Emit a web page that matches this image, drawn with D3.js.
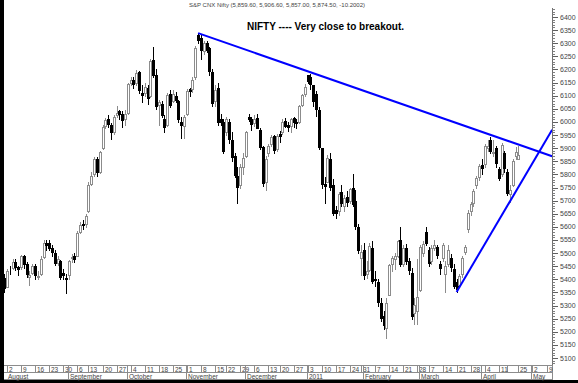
<!DOCTYPE html>
<html>
<head>
<meta charset="utf-8">
<script src="https://cdn.jsdelivr.net/npm/d3@7"></script>
<style>
    body { margin: 0; background: #fff; }
    svg { display: block; }
    text { font-family: "Liberation Sans", Arial, sans-serif; }
</style>
</head>
<body>
<svg id="chart" width="578" height="383"></svg>
<script>
// NSE holidays falling on weekdays in the charted period
const holidays = ['2010-09-10', '2010-11-17', '2010-12-17', '2011-01-26', '2011-03-02', '2011-04-12', '2011-04-14', '2011-04-22'];

// Daily OHLC, 30 Jul 2010 .. 25 Apr 2011 (one entry per trading day)
const opens = [5405,
    5370, 5440, 5442, 5467, 5446, 5448, 5490, 5460, 5410, 5425, 5450, 5410, 5420, 5485, 5540, 5540, 5520, 5500, 5462, 5470, 5425, 5405,
    5415, 5480, 5490, 5490, 5580, 5612, 5610, 5660, 5765, 5800, 5860, 5810, 5900, 5985, 6010, 5990, 5960, 6025, 6040, 6030, 6010,
    6035, 6150, 6160, 6150, 6190, 6110, 6110, 6130, 6100, 6235, 6180, 6065, 6070, 6010, 5990, 6105, 6080, 6100, 6080, 6000, 5985,
    6030, 6125, 6125, 6170, 6330, 6320, 6270, 6300, 6280, 6190, 6080, 6130, 6010, 6000, 5960, 6000, 5930, 5870, 5795, 5760, 5830,
    5870, 6020, 6010, 5995, 6015, 5970, 5905, 5770, 5880, 5915, 5945, 5895, 5955, 5960, 6005, 5990, 5985, 6015, 6000, 6000, 6065, 6105,
    6177, 6172, 6141, 6107, 6045, 5900, 5765, 5770, 5860, 5760, 5665, 5660, 5731, 5680, 5715, 5700, 5750, 5700, 5600, 5480,
    5510, 5420, 5435, 5520, 5400, 5390, 5310, 5260, 5215, 5340, 5460, 5478, 5490, 5550, 5460, 5520, 5470, 5425, 5270, 5280,
    5360, 5500, 5580, 5510, 5470, 5520, 5525, 5460, 5480, 5420, 5460, 5480, 5440, 5390, 5380, 5420, 5505, 5590, 5660, 5690, 5760, 5790,
    5835, 5840, 5900, 5930, 5880, 5900, 5820, 5800, 5880, 5810, 5725, 5760, 5870, 5859.6];
const highs = [5420,
    5440, 5452, 5477, 5478, 5450, 5494, 5492, 5465, 5430, 5460, 5460, 5430, 5490, 5550, 5549, 5549, 5530, 5510, 5490, 5475, 5440, 5420,
    5475, 5495, 5500, 5585, 5620, 5625, 5650, 5770, 5810, 5865, 5865, 5890, 5990, 6015, 6025, 5995, 6025, 6060, 6045, 6040, 6045,
    6150, 6170, 6170, 6198, 6195, 6140, 6150, 6140, 6240, 6284, 6200, 6085, 6080, 6025, 6110, 6120, 6120, 6115, 6085, 6020, 6025,
    6125, 6130, 6170, 6290, 6338.5, 6335, 6310, 6310, 6285, 6200, 6140, 6150, 6030, 6010, 6020, 6010, 5960, 5880, 5830, 5840, 5880,
    5965, 6030, 6020, 6025, 6030, 5975, 5910, 5870, 5915, 5950, 5950, 5955, 5965, 6010, 6015, 6000, 6015, 6020, 6010, 6065, 6105, 6145,
    6178, 6181, 6141, 6116, 6057, 5900, 5790, 5873, 5880, 5784, 5680, 5734, 5760, 5720, 5735, 5750, 5800, 5740, 5610, 5530,
    5540, 5470, 5540, 5545, 5430, 5400, 5330, 5280, 5330, 5460, 5490, 5500, 5550, 5600, 5530, 5535, 5480, 5445, 5330, 5477,
    5530, 5545, 5600, 5525, 5530, 5550, 5530, 5470, 5540, 5470, 5530, 5495, 5460, 5400, 5420, 5490, 5530, 5665, 5695, 5745, 5795, 5840,
    5860, 5915, 5930, 5944, 5930, 5910, 5830, 5920, 5890, 5820, 5760, 5860, 5905, 5906.6];
const lows = [5350,
    5369, 5422, 5440, 5435, 5415, 5440, 5445, 5410, 5380, 5420, 5400, 5400, 5415, 5480, 5513, 5510, 5490, 5455, 5455, 5400, 5402, 5348,
    5400, 5465, 5465, 5488, 5578, 5590, 5600, 5658, 5760, 5795, 5795, 5805, 5898, 5975, 5980, 5935, 5955, 6020, 6010, 5980, 5990,
    6030, 6140, 6130, 6140, 6110, 6075, 6100, 6070, 6095, 6170, 6050, 5990, 6020, 5960, 5985, 6055, 6075, 6075, 6000, 5940, 5937,
    6025, 6100, 6115, 6165, 6300, 6240, 6260, 6265, 6180, 6060, 6060, 5990, 5990, 5880, 5950, 5920, 5850, 5790, 5690, 5750, 5800,
    5865, 6005, 5970, 5985, 5975, 5895, 5755, 5740, 5870, 5910, 5880, 5890, 5925, 5955, 5980, 5965, 5960, 5980, 5975, 5995, 6060, 6100,
    6147, 6124, 6062, 6022, 5896, 5748, 5690, 5770, 5740, 5644, 5632, 5646, 5680, 5660, 5680, 5690, 5680, 5590, 5500, 5416,
    5400, 5405, 5430, 5385, 5375, 5300, 5240, 5210, 5177.7, 5340, 5430, 5440, 5485, 5450, 5450, 5460, 5420, 5250, 5230, 5230,
    5355, 5490, 5530, 5450, 5460, 5510, 5480, 5420, 5470, 5350, 5450, 5430, 5365, 5350, 5370, 5410, 5495, 5580, 5645, 5680, 5750, 5780,
    5800, 5830, 5890, 5880, 5870, 5830, 5780, 5795, 5810, 5720, 5693, 5755, 5860, 5857];
const closes = [5368,
    5432, 5439, 5467, 5447, 5439, 5487, 5460, 5420, 5416, 5452, 5418, 5414, 5479, 5540, 5530, 5519, 5505, 5462, 5477, 5408, 5416, 5402,
    5471, 5486, 5479, 5576, 5608, 5607, 5640, 5760, 5795, 5860, 5808, 5884, 5980, 6009, 5991, 5960, 6018, 6035, 6029, 6009, 6030,
    6143, 6159, 6145, 6186, 6120, 6103, 6135, 6090, 6233, 6177, 6062, 6075, 6027, 5982, 6101, 6066, 6106, 6082, 6012, 5987, 6018,
    6117, 6119, 6160, 6281, 6312, 6273, 6301, 6275, 6194, 6071, 6121, 5998, 5999, 5890, 6010, 5935, 5865, 5799, 5752, 5830, 5862,
    5960, 6011, 5992, 6013, 5976, 5903, 5766, 5857, 5907, 5944, 5892, 5948, 5947, 6000, 5985, 5980, 6011, 5998, 5996, 6060, 6101, 6134,
    6157, 6146, 6079, 6048, 5904, 5762, 5754, 5863, 5751, 5654, 5654, 5724, 5691, 5711, 5696, 5743, 5687, 5604, 5512, 5505,
    5417, 5432, 5526, 5395, 5396, 5312, 5253, 5225, 5310, 5456, 5481, 5488, 5546, 5458, 5518, 5469, 5437, 5262, 5303, 5333,
    5522, 5536, 5538, 5463, 5520, 5531, 5494, 5445, 5531, 5449, 5511, 5446, 5374, 5364, 5413, 5480, 5522, 5654, 5687, 5736, 5787, 5833,
    5826, 5908, 5910, 5891, 5885, 5842, 5787, 5911, 5824, 5729, 5740, 5851, 5884, 5874.5];

// Price axis labels, month row labels and the two hand-drawn trend lines
const priceTicks = [5100, 5150, 5200, 5250, 5300, 5350, 5400, 5450, 5500, 5550, 5600, 5650, 5700,
    5750, 5800, 5850, 5900, 5950, 6000, 6050, 6100, 6150, 6200, 6250, 6300, 6350, 6400];
const monthLabels = ['August', 'September', 'October', 'November', 'December', '2011', 'February', 'March', 'April', 'May'];
const hiddenWeekLabels = ['2011-04-18'];
const downTrend = [['2010-11-05', 6338.5], ['2011-05-11', 5869]];
const upTrend = [['2011-03-21', 5352], ['2011-05-11', 5970]];

const header = 'S&P CNX Nifty (5,859.60, 5,906.60, 5,857.00, 5,874.50, -10.2002)';
const title = 'NIFTY ---- Very close to breakout.';

// Trading calendar

const fmt = d3.timeFormat('%Y-%m-%d');
const days = d3.timeDay
    .range(new Date(2010, 6, 30), new Date(2011, 4, 12))
    .filter(d => d.getDay() % 6 !== 0 && !holidays.includes(fmt(d)));
const dayIndex = new Map(days.map((d, i) => [fmt(d), i]));

// Scales

const plot = { left: 4, right: 552, top: 8, bottom: 365 };
const x = d3.scaleLinear().domain([1, 183]).range([7, 7 + 182 * 2.81]);
const y = d3.scaleLinear().domain([5100, 6400]).range([358, 17]);

const svg = d3.select('#chart');

svg.append('defs')
    .append('clipPath')
    .attr('id', 'plot-clip')
    .append('rect')
    .attr('x', plot.left)
    .attr('y', plot.top)
    .attr('width', plot.right - plot.left)
    .attr('height', plot.bottom - plot.top);

// Frame

svg.append('rect').attr('x', 0).attr('y', 0).attr('width', 4).attr('height', 383).attr('fill', '#000');
svg.append('rect').attr('x', 0).attr('y', 380).attr('width', 578).attr('height', 3).attr('fill', '#000');

// Candles

const candles = svg.append('g').attr('clip-path', 'url(#plot-clip)').attr('shape-rendering', 'crispEdges');
const candle = candles
    .selectAll('g.candle')
    .data(d3.range(closes.length))
    .enter()
    .append('g')
    .attr('class', 'candle');

const up = i => closes[i] >= opens[i];
const cx = i => Math.round(x(i));

candle
    .append('line')
    .attr('x1', i => cx(i) + 0.5)
    .attr('x2', i => cx(i) + 0.5)
    .attr('y1', i => Math.round(y(highs[i])))
    .attr('y2', i => Math.round(y(lows[i])) + 1)
    .attr('stroke', i => (up(i) ? '#8c8c8c' : '#000'));

candle
    .append('rect')
    .attr('x', i => cx(i) - 0.5)
    .attr('width', 2)
    .attr('y', i => Math.round(y(Math.max(opens[i], closes[i]))) + 0.5)
    .attr('height', i => Math.max(0, Math.round(y(Math.min(opens[i], closes[i]))) - Math.round(y(Math.max(opens[i], closes[i])))))
    .attr('fill', i => (up(i) ? '#fff' : '#000'))
    .attr('stroke', i => (up(i) ? '#8c8c8c' : '#000'))
    .attr('stroke-width', 1);

// Trend lines

const trend = d3
    .line()
    .x(d => x(dayIndex.get(d[0])))
    .y(d => y(d[1]));

[downTrend, upTrend].forEach(pts => {
    svg.append('path')
        .attr('d', trend(pts))
        .attr('fill', 'none')
        .attr('stroke', '#0000ff')
        .attr('stroke-width', 2);
});

// Price axis

const minorTicks = d3.range(5080, 6431, 10);
const yAxis = svg.append('g').attr('transform', `translate(${plot.right},0)`);
yAxis.append('line')
    .attr('x1', 0.5).attr('x2', 0.5)
    .attr('y1', plot.top).attr('y2', plot.bottom)
    .attr('stroke', '#707070');
yAxis.selectAll('line.minor')
    .data(minorTicks)
    .enter()
    .append('line')
    .attr('class', 'minor')
    .attr('x1', 0.5).attr('x2', 3)
    .attr('y1', d => Math.round(y(d)) + 0.5)
    .attr('y2', d => Math.round(y(d)) + 0.5)
    .attr('stroke', '#808080');
yAxis.selectAll('line.major')
    .data(priceTicks)
    .enter()
    .append('line')
    .attr('class', 'major')
    .attr('x1', 0.5).attr('x2', 6)
    .attr('y1', d => Math.round(y(d)) + 0.5)
    .attr('y2', d => Math.round(y(d)) + 0.5)
    .attr('stroke', '#606060');
yAxis.selectAll('text')
    .data(priceTicks)
    .enter()
    .append('text')
    .attr('x', 8)
    .attr('y', d => y(d) + 2.5)
    .attr('font-size', 7)
    .attr('fill', '#444')
    .text(d => d);

// Date axis

const xAxis = svg.append('g').attr('shape-rendering', 'crispEdges');
[365.5, 372.5, 379.5].forEach(v => {
    xAxis.append('line')
        .attr('x1', plot.left).attr('x2', plot.right)
        .attr('y1', v).attr('y2', v)
        .attr('stroke', '#8c8c8c');
});
xAxis.append('line')
    .attr('x1', plot.right + 0.5).attr('x2', plot.right + 0.5)
    .attr('y1', 365).attr('y2', 380)
    .attr('stroke', '#8c8c8c');

const weekStarts = days
    .map((d, i) => i)
    .filter(i => i > 0 && +d3.timeMonday.floor(days[i]) !== +d3.timeMonday.floor(days[i - 1]) && x(i) < plot.right);
// first trading day of each month (Aug 2 is the first one)
const monthStarts = days
    .map((d, i) => i)
    .filter(i => i > 0 && days[i].getMonth() !== days[i - 1].getMonth());

xAxis.selectAll('line.week')
    .data(weekStarts)
    .enter()
    .append('line')
    .attr('class', 'week')
    .attr('x1', i => cx(i) + 0.5).attr('x2', i => cx(i) + 0.5)
    .attr('y1', 365).attr('y2', 373)
    .attr('stroke', '#8c8c8c');
xAxis.selectAll('text.week')
    .data(weekStarts.filter(i => !hiddenWeekLabels.includes(fmt(days[i]))))
    .enter()
    .append('text')
    .attr('class', 'week')
    .attr('x', i => cx(i) + 2)
    .attr('y', 371.5)
    .attr('font-size', 6.5)
    .attr('fill', '#444')
    .text(i => days[i].getDate());

xAxis.selectAll('line.month')
    .data(monthStarts.slice(1))
    .enter()
    .append('line')
    .attr('class', 'month')
    .attr('x1', i => cx(i) - 0.5).attr('x2', i => cx(i) - 0.5)
    .attr('y1', 365).attr('y2', 380)
    .attr('stroke', '#8c8c8c');
xAxis.selectAll('text.month')
    .data(monthStarts)
    .enter()
    .append('text')
    .attr('class', 'month')
    .attr('x', (i, k) => (k === 0 ? 8 : cx(i) + 1))
    .attr('y', 378.5)
    .attr('font-size', 6.5)
    .attr('fill', '#444')
    .text((i, k) => monthLabels[k]);

// Titles

svg.append('text')
    .attr('x', 277)
    .attr('y', 7)
    .attr('text-anchor', 'middle')
    .attr('font-size', 6)
    .attr('fill', '#444')
    .text(header);

svg.append('text')
    .attr('x', 247)
    .attr('y', 30)
    .attr('font-family', 'Lato, "Liberation Sans", sans-serif')
    .attr('font-weight', 'bold')
    .attr('font-size', 10)
    .attr('fill', '#000')
    .text(title);
</script>
</body>
</html>
